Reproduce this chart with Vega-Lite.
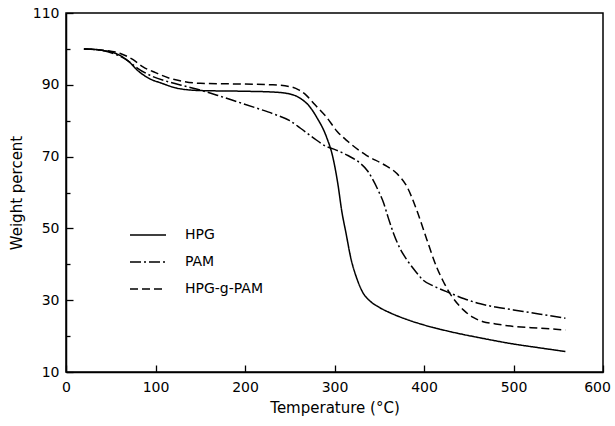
{
  "$schema": "https://vega.github.io/schema/vega-lite/v6.json",
  "width": 537,
  "height": 359,
  "autosize": "none",
  "padding": {"left": 66, "top": 13, "right": 12, "bottom": 54},
  "background": "white",
  "config": {
    "view": {"stroke": "black", "strokeWidth": 1.5},
    "font": "DejaVu Sans",
    "axis": {
      "grid": false,
      "domainColor": "black",
      "domainWidth": 1.5,
      "tickColor": "black",
      "tickWidth": 1.3,
      "labelColor": "black",
      "labelFontSize": 14,
      "titleColor": "black",
      "titleFontSize": 15,
      "titleFontWeight": "normal"
    }
  },
  "data": {
    "values": [
      {"s": "HPG", "t": 20, "w": 100}, {"s": "HPG", "t": 40, "w": 99.6}, {"s": "HPG", "t": 55, "w": 98.8}, {"s": "HPG", "t": 70, "w": 96.5}, {"s": "HPG", "t": 80, "w": 94}, {"s": "HPG", "t": 95, "w": 91.5}, {"s": "HPG", "t": 105, "w": 90.6}, {"s": "HPG", "t": 125, "w": 89}, {"s": "HPG", "t": 150, "w": 88.4}, {"s": "HPG", "t": 200, "w": 88.2}, {"s": "HPG", "t": 230, "w": 88}, {"s": "HPG", "t": 247, "w": 87.6}, {"s": "HPG", "t": 262, "w": 86.2}, {"s": "HPG", "t": 272, "w": 84}, {"s": "HPG", "t": 280, "w": 81}, {"s": "HPG", "t": 291, "w": 75.5}, {"s": "HPG", "t": 298, "w": 70}, {"s": "HPG", "t": 304, "w": 62}, {"s": "HPG", "t": 308, "w": 55}, {"s": "HPG", "t": 313, "w": 48.5}, {"s": "HPG", "t": 318, "w": 42}, {"s": "HPG", "t": 325, "w": 36}, {"s": "HPG", "t": 332, "w": 32}, {"s": "HPG", "t": 340, "w": 29.7}, {"s": "HPG", "t": 350, "w": 28}, {"s": "HPG", "t": 362, "w": 26.5}, {"s": "HPG", "t": 380, "w": 24.7}, {"s": "HPG", "t": 400, "w": 23.1}, {"s": "HPG", "t": 430, "w": 21.2}, {"s": "HPG", "t": 463, "w": 19.5}, {"s": "HPG", "t": 500, "w": 17.8}, {"s": "HPG", "t": 530, "w": 16.7}, {"s": "HPG", "t": 558, "w": 15.7},
      {"s": "PAM", "t": 20, "w": 100}, {"s": "PAM", "t": 40, "w": 99.6}, {"s": "PAM", "t": 55, "w": 98.5}, {"s": "PAM", "t": 68, "w": 96.9}, {"s": "PAM", "t": 80, "w": 94.6}, {"s": "PAM", "t": 97, "w": 92.3}, {"s": "PAM", "t": 115, "w": 90.8}, {"s": "PAM", "t": 135, "w": 89.5}, {"s": "PAM", "t": 153, "w": 88.3}, {"s": "PAM", "t": 170, "w": 87}, {"s": "PAM", "t": 191, "w": 85.3}, {"s": "PAM", "t": 213, "w": 83.5}, {"s": "PAM", "t": 235, "w": 81.6}, {"s": "PAM", "t": 250, "w": 80}, {"s": "PAM", "t": 262, "w": 77.9}, {"s": "PAM", "t": 276, "w": 75.3}, {"s": "PAM", "t": 291, "w": 72.8}, {"s": "PAM", "t": 300, "w": 72}, {"s": "PAM", "t": 315, "w": 70.3}, {"s": "PAM", "t": 329, "w": 68.1}, {"s": "PAM", "t": 337, "w": 66}, {"s": "PAM", "t": 343, "w": 63.5}, {"s": "PAM", "t": 349, "w": 60.5}, {"s": "PAM", "t": 355, "w": 57}, {"s": "PAM", "t": 360, "w": 53}, {"s": "PAM", "t": 366, "w": 48.6}, {"s": "PAM", "t": 373, "w": 44.5}, {"s": "PAM", "t": 381, "w": 41.2}, {"s": "PAM", "t": 390, "w": 38.2}, {"s": "PAM", "t": 399, "w": 35.6}, {"s": "PAM", "t": 412, "w": 33.8}, {"s": "PAM", "t": 429, "w": 32}, {"s": "PAM", "t": 445, "w": 30.4}, {"s": "PAM", "t": 463, "w": 29}, {"s": "PAM", "t": 480, "w": 28.1}, {"s": "PAM", "t": 500, "w": 27.3}, {"s": "PAM", "t": 530, "w": 26.1}, {"s": "PAM", "t": 558, "w": 25},
      {"s": "HPG-g-PAM", "t": 20, "w": 100}, {"s": "HPG-g-PAM", "t": 40, "w": 99.7}, {"s": "HPG-g-PAM", "t": 60, "w": 98.8}, {"s": "HPG-g-PAM", "t": 75, "w": 97}, {"s": "HPG-g-PAM", "t": 86, "w": 95}, {"s": "HPG-g-PAM", "t": 100, "w": 93.4}, {"s": "HPG-g-PAM", "t": 116, "w": 91.8}, {"s": "HPG-g-PAM", "t": 130, "w": 91}, {"s": "HPG-g-PAM", "t": 150, "w": 90.4}, {"s": "HPG-g-PAM", "t": 200, "w": 90.2}, {"s": "HPG-g-PAM", "t": 230, "w": 90}, {"s": "HPG-g-PAM", "t": 250, "w": 89.5}, {"s": "HPG-g-PAM", "t": 260, "w": 88.6}, {"s": "HPG-g-PAM", "t": 268, "w": 87.2}, {"s": "HPG-g-PAM", "t": 278, "w": 84.5}, {"s": "HPG-g-PAM", "t": 291, "w": 81}, {"s": "HPG-g-PAM", "t": 303, "w": 77}, {"s": "HPG-g-PAM", "t": 315, "w": 74.2}, {"s": "HPG-g-PAM", "t": 336, "w": 70.3}, {"s": "HPG-g-PAM", "t": 355, "w": 67.8}, {"s": "HPG-g-PAM", "t": 370, "w": 65.2}, {"s": "HPG-g-PAM", "t": 381, "w": 61.6}, {"s": "HPG-g-PAM", "t": 392, "w": 55}, {"s": "HPG-g-PAM", "t": 403, "w": 47}, {"s": "HPG-g-PAM", "t": 414, "w": 39.3}, {"s": "HPG-g-PAM", "t": 422, "w": 35}, {"s": "HPG-g-PAM", "t": 430, "w": 31.5}, {"s": "HPG-g-PAM", "t": 444, "w": 27.3}, {"s": "HPG-g-PAM", "t": 455, "w": 25.2}, {"s": "HPG-g-PAM", "t": 466, "w": 24}, {"s": "HPG-g-PAM", "t": 480, "w": 23.4}, {"s": "HPG-g-PAM", "t": 500, "w": 22.7}, {"s": "HPG-g-PAM", "t": 530, "w": 22.2}, {"s": "HPG-g-PAM", "t": 558, "w": 21.7}
    ]
  },
  "layer": [
    {
      "mark": {"type": "line", "color": "black", "strokeWidth": 1.5, "interpolate": "monotone"},
      "encoding": {
        "x": {
          "field": "t",
          "type": "quantitative",
          "scale": {"domain": [0, 600], "nice": false},
          "axis": {
            "values": [0, 100, 200, 300, 400, 500, 600],
            "ticks": false,
            "labelPadding": 8,
            "labelFlush": false,
            "labelOffset": {"condition": {"test": "datum.value == 600", "value": -6}, "value": 0},
            "title": "Temperature (°C)",
            "titlePadding": 6
          }
        },
        "y": {
          "field": "w",
          "type": "quantitative",
          "scale": {"domain": [10, 110], "nice": false, "zero": false},
          "axis": {
            "values": [10, 30, 50, 70, 90, 110],
            "ticks": false,
            "labelPadding": 7,
            "labelFlush": false,
            "title": "Weight percent",
            "titlePadding": 8
          }
        },
        "strokeDash": {
          "field": "s",
          "type": "nominal",
          "scale": {"domain": ["HPG", "PAM", "HPG-g-PAM"], "range": [[1, 0], [11, 3, 2, 3], [8, 4]]},
          "legend": {
            "orient": "none",
            "legendX": 71,
            "legendY": 211,
            "title": null,
            "padding": 0,
            "symbolType": "M-1.8,0H1.8",
            "symbolSize": 400,
            "symbolStrokeColor": "black",
            "symbolStrokeWidth": 1.5,
            "labelOffset": 26,
            "labelFontSize": 14,
            "labelColor": "black",
            "rowPadding": 9
          }
        }
      }
    },
    {
      "mark": {"type": "point", "opacity": 0},
      "encoding": {
        "x": {
          "field": "t",
          "type": "quantitative",
          "axis": {
            "orient": "top",
            "offset": -359,
            "values": [0, 100, 200, 300, 400, 500, 600],
            "tickSize": 7,
            "labels": false,
            "domain": false,
            "title": null
          }
        },
        "y": {
          "field": "w",
          "type": "quantitative",
          "axis": {
            "orient": "right",
            "offset": -537,
            "values": [10, 20, 30, 40, 50, 60, 70, 80, 90, 100, 110],
            "tickSize": {"condition": {"test": "datum.value % 20 == 10", "value": 7}, "value": 4},
            "labels": false,
            "domain": false,
            "title": null
          }
        }
      }
    }
  ],
  "resolve": {"axis": {"x": "independent", "y": "independent"}}
}
